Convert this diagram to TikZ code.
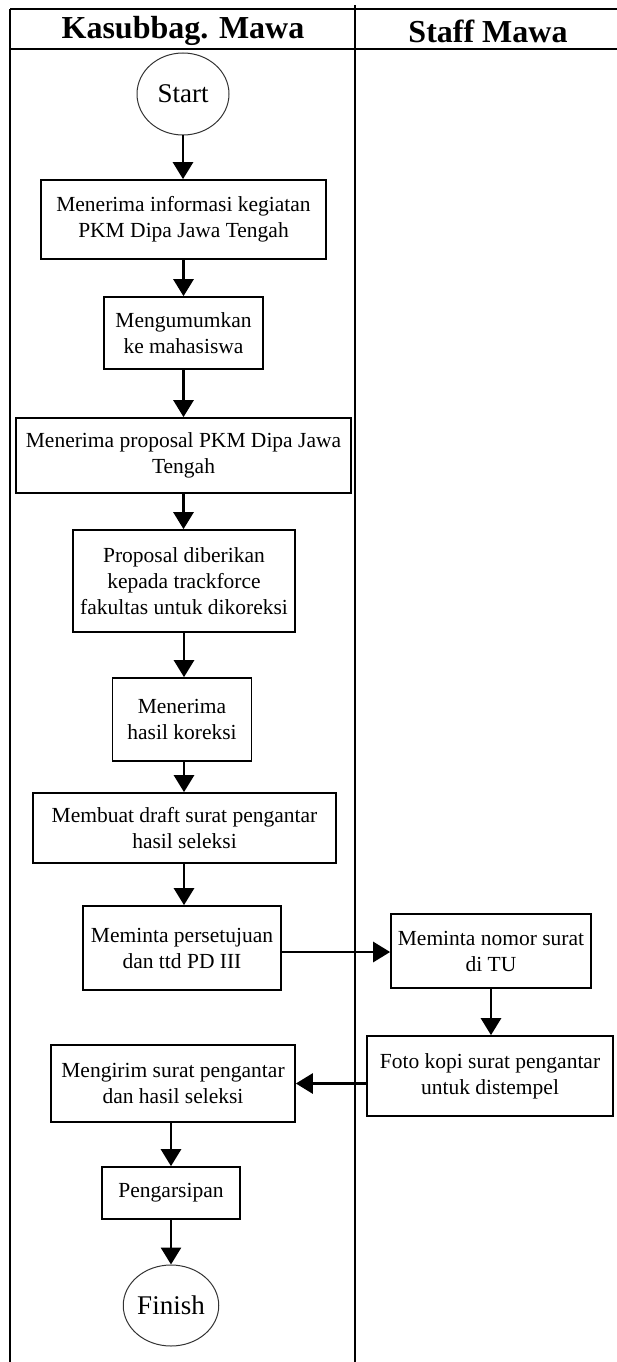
\documentclass[tikz,border=0pt]{standalone}
\usepackage{fontspec}
\setmainfont{Liberation Serif}
\usetikzlibrary{arrows.meta,shapes.geometric}
\begin{document}
\begin{tikzpicture}[x=1pt,y=-1pt,
  box/.style={draw, line width=1.7pt, align=center, inner sep=0pt, font=\fontsize{21.5}{26}\selectfont},
  term/.style={draw, ellipse, line width=1pt, draw=black!80, text=black, inner sep=0pt, font=\fontsize{27}{30}\selectfont},
  arr/.style={line width=2.8pt, -{Triangle[width=20pt,length=17pt]}},
  grid/.style={line width=1.8pt},
  head/.style={font=\bfseries\fontsize{32}{34}\selectfont}]
\useasboundingbox (0,0) rectangle (617,1362);
% swimlane table
\draw[grid] (10,9) -- (617,9);
\draw[grid] (10,49) -- (617,49);
\draw[grid] (10,9) -- (10,1362);
\draw[grid] (355,5) -- (355,1362);
\node[head] (h1) at (183,31) {Kasubbag. Mawa};
\node[head] (h2) at (488,31) {Staff Mawa};
% nodes
\node[term, minimum width=92pt, minimum height=82pt] (s) at (183,94) {Start};
\node[box, minimum width=285pt, minimum height=79pt] (b1) at (183.5,219.5) {Menerima informasi kegiatan\\PKM Dipa Jawa Tengah};
\node[box, minimum width=159pt, minimum height=72pt] (b2) at (183.5,333) {Mengumumkan\\ke mahasiswa};
\node[box, minimum width=335pt, minimum height=75pt] (b3) at (183.5,455.5) {Menerima proposal PKM Dipa Jawa\\Tengah};
\node[box, minimum width=222pt, minimum height=102pt] (b4) at (184,581) {Proposal diberikan\\kepada trackforce\\fakultas untuk dikoreksi};
\node[box, minimum width=139pt, minimum height=83pt] (b5) at (182,719.5) {Menerima\\hasil koreksi};
\node[box, minimum width=303pt, minimum height=70pt] (b6) at (184.5,828) {Membuat draft surat pengantar\\hasil seleksi};
\node[box, minimum width=198pt, minimum height=84pt] (b7) at (182,948) {Meminta persetujuan\\dan ttd PD III};
\node[box, minimum width=200pt, minimum height=74pt] (b8) at (491,951) {Meminta nomor surat\\di TU};
\node[box, minimum width=246pt, minimum height=80pt] (b9) at (490,1076) {Foto kopi surat pengantar\\untuk distempel};
\node[box, minimum width=244pt, minimum height=77pt] (b10) at (173,1083.5) {Mengirim surat pengantar\\dan hasil seleksi};
\node[box, minimum width=138pt, minimum height=52pt] (b11) at (171,1193) {Pengarsipan};
\node[term, minimum width=92pt, minimum height=81pt] (f) at (171,1305.5) {Finish};
% connectors
\draw[arr] (s.south) -- (s.south |- b1.north);
\draw[arr] (b1.south) -- (b1.south |- b2.north);
\draw[arr] (b2.south) -- (b2.south |- b3.north);
\draw[arr] (b3.south) -- (b3.south |- b4.north);
\draw[arr] (b4.south) -- (b4.south |- b5.north);
\draw[arr] (b5.south -| b4.south) -- (b4.south |- b6.north);
\draw[arr] (b6.south -| b4.south) -- (b4.south |- b7.north);
\draw[arr] ([yshift=-4pt]b7.east) -- ([yshift=-4pt]b7.east -| b8.west);
\draw[arr] (b8.south) -- (b8.south |- b9.north);
\draw[arr] (b9.west |- b10.east) -- (b10.east);
\draw[arr] (b10.south -| b11.south) -- (b11.north);
\draw[arr] (b11.south) -- (f.north);
\end{tikzpicture}
\end{document}
